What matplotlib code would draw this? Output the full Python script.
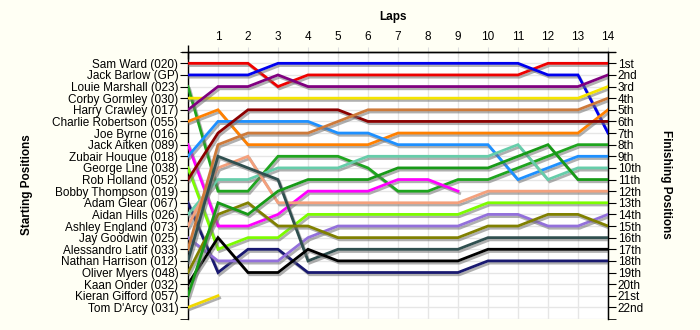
import matplotlib
matplotlib.use("Agg")
import matplotlib.pyplot as plt
import matplotlib.patheffects as pe

plt.rcParams['font.family'] = ['Liberation Sans', 'DejaVu Sans']

laps = list(range(0, 15))
lap_labels = [str(i) for i in range(1, 15)]

starting_names = [
    "Sam Ward (020)", "Jack Barlow (GP)", "Louie Marshall (023)", "Corby Gormley (030)",
    "Harry Crawley (017)", "Charlie Robertson (055)", "Joe Byrne (016)", "Jack Aitken (089)",
    "Zubair Houque (018)", "George Line (038)", "Rob Holland (052)", "Bobby Thompson (019)",
    "Adam Glear (067)", "Aidan Hills (026)", "Ashley England (073)", "Jay Goodwin (025)",
    "Alessandro Latif (033)", "Nathan Harrison (012)", "Oliver Myers (048)", "Kaan Onder (032)",
    "Kieran Gifford (057)", "Tom D'Arcy (031)",
]
finishing_labels = ["1st", "2nd", "3rd"] + [f"{i}th" for i in range(4, 21)] + ["21st", "22nd"]

# positions per lap (lap 0 = starting position)
sam_ward        = [1, 1, 1, 3, 2, 2, 2, 2, 2, 2, 2, 2, 1, 1, 1]
jack_barlow     = [2, 2, 2, 1, 1, 1, 1, 1, 1, 1, 1, 1, 2, 2, 7]
louie_marshall  = [3, 12, 12, 9, 9, 9, 10, 12, 12, 11, 11, 10, 9, 8, 8]
corby_gormley   = [4, 4, 4, 4, 4, 4, 4, 4, 4, 4, 4, 4, 4, 4, 3]
harry_crawley   = [5, 3, 3, 2, 3, 3, 3, 3, 3, 3, 3, 3, 3, 3, 2]
charlie_robertson = [6, 5, 8, 8, 8, 8, 8, 7, 7, 7, 7, 7, 7, 7, 5]
jack_aitken     = [8, 15, 15, 14, 12, 12, 12, 11, 11, 12]
zubair_houque   = [9, 6, 6, 6, 6, 7, 7, 8, 8, 8, 8, 11, 10, 9, 9]
george_line     = [10, 17, 16, 16, 14, 14, 14, 14, 14, 14, 13, 13, 13, 13, 13]
rob_holland     = [11, 7, 5, 5, 5, 5, 6, 6, 6, 6, 6, 6, 6, 6, 6]
adam_glear      = [13, 19, 17, 17, 19, 19, 19, 19, 19, 19, 18, 18, 18, 18, 18]
aidan_hills     = [14, 11, 11, 10, 10, 10, 9, 9, 9, 9, 9, 8, 11, 10, 10]
ashley_england  = [15, 10, 9, 13, 13, 13, 13, 13, 13, 13, 12, 12, 12, 12, 12]
jay_goodwin     = [16, 18, 18, 18, 16, 15, 15, 15, 15, 15, 14, 14, 15, 15, 14]
alessandro_latif = [17, 8, 7, 7, 7, 6, 5, 5, 5, 5, 5, 5, 5, 5, 4]
nathan_harrison = [18, 9, 10, 11, 18, 17, 17, 17, 17, 17, 16, 16, 16, 16, 16]
oliver_myers    = [19, 14, 13, 15, 15, 16, 16, 16, 16, 16, 15, 15, 14, 14, 15]
kaan_onder      = [20, 16, 19, 19, 17, 18, 18, 18, 18, 18, 17, 17, 17, 17, 17]
kieran_gifford  = [21, 13, 14, 12, 11, 11, 11, 10, 10, 10, 10, 9, 8, 11, 11]
tom_darcy       = [22, 21]

series = [
    (sam_ward, '#EE0000'), (jack_barlow, '#0000EE'), (louie_marshall, '#1FA51F'),
    (corby_gormley, '#F5E400'), (harry_crawley, '#800080'), (charlie_robertson, '#FF8000'),
    (jack_aitken, '#FF00FF'), (zubair_houque, '#1E90FF'), (george_line, '#7CFC00'),
    (rob_holland, '#8B0000'), (adam_glear, '#191970'), (aidan_hills, '#66CDAA'),
    (ashley_england, '#F4A07C'), (jay_goodwin, '#9370DB'), (alessandro_latif, '#CD7A3A'),
    (nathan_harrison, '#2F4F4F'), (oliver_myers, '#808000'), (kaan_onder, '#000000'),
    (kieran_gifford, '#179A17'), (tom_darcy, '#F0D800'),
]

fig = plt.figure(figsize=(7, 3.3), dpi=100, facecolor='#FFFFF4')
ax = fig.add_axes([188/700, 1-319/330, 420/700, (319-51.7)/330])
ax.set_facecolor('white')
ax.set_xlim(0, 14)
ax.set_ylim(23, 0)

for vals, col in series:
    ax.plot(laps[:len(vals)], vals, color=col, lw=2.0, solid_joinstyle='miter',
            path_effects=[pe.SimpleLineShadow(offset=(1.2, -1.6), shadow_color='#707070', alpha=0.55),
                          pe.Normal()], zorder=3)

# grid
for v in laps:
    ax.axvline(v, color='#E6E6E6', lw=1, zorder=1)
for r in range(0, 24):
    ax.axhline(r, color='#E6E6E6', lw=1, zorder=1)

ax.spines['bottom'].set_visible(False)
for s in ['left', 'right', 'top']:
    ax.spines[s].set_linewidth(1)

ax.xaxis.tick_top()
ax.set_xticks(laps[1:])
ax.set_xticklabels(lap_labels, fontsize=8.5)
ax.set_xticks([0, 14], minor=True)
ax.tick_params(axis='x', which='major', top=True, bottom=False, direction='inout',
               length=7, color='#DDDDDD', pad=3)
ax.tick_params(axis='x', which='minor', top=True, bottom=False, direction='inout',
               length=10, color='black', width=1)
ax.plot([-0.014, 1.016], [1, 1], transform=ax.transAxes, color='black', lw=1, clip_on=False, zorder=5)

ax.set_yticks(range(1, 23))
ax.set_yticklabels(starting_names, fontsize=8.5)
ax.set_yticks([0, 23], minor=True)
ax.tick_params(axis='y', which='both', left=True, right=False, direction='out', length=6, pad=1)

ax2 = ax.twinx()
ax2.set_ylim(23, 0)
ax2.set_yticks(range(1, 23))
ax2.set_yticklabels(finishing_labels, fontsize=8.5)
ax2.set_yticks([0, 23], minor=True)
ax2.tick_params(axis='y', which='both', right=True, direction='out', length=6, pad=1)
for s in ['bottom', 'top', 'left']:
    ax2.spines[s].set_visible(False)

fig.text(393/700, 1-17/330, "Laps", fontsize=8.5, fontweight='bold', ha='center', va='center')
fig.text(27/700, 1-185/330, "Starting Positions", fontsize=8.5, fontweight='bold',
         rotation=90, ha='center', va='center')
fig.text(666/700, 1-184/330, "Finishing Positions", fontsize=8.5, fontweight='bold',
         rotation=270, ha='center', va='center')

fig.savefig("out.png", dpi=100, facecolor=fig.get_facecolor())
